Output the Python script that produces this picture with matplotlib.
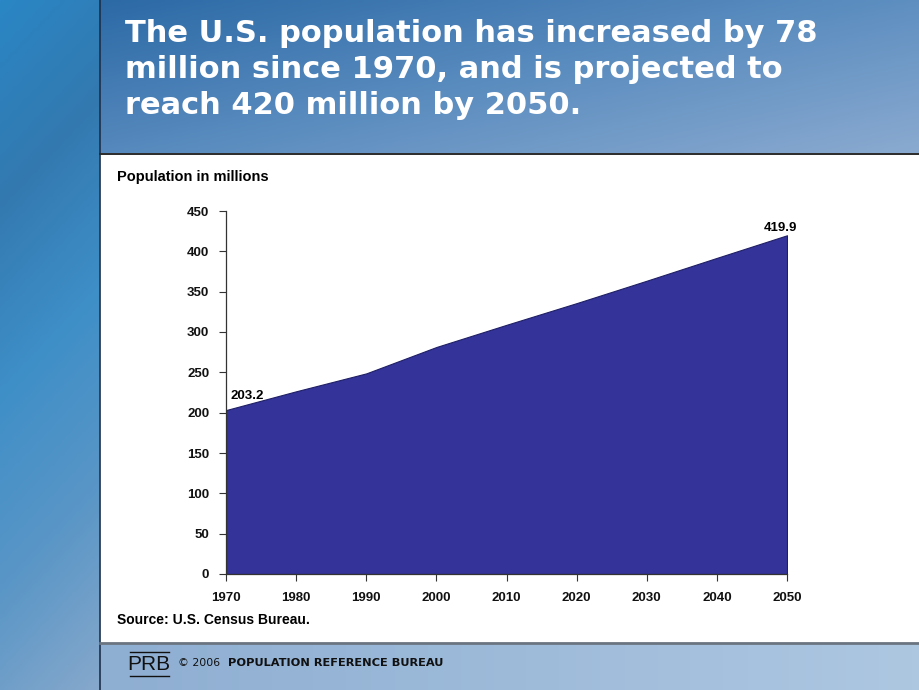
import numpy as np
import matplotlib.pyplot as plt
from matplotlib.colors import LinearSegmentedColormap

years = [1970, 1980, 1990, 2000, 2010, 2020, 2030, 2040, 2050]
population = [203.2, 226.5, 248.7, 281.4, 308.9, 335.8, 363.6, 391.9, 419.9]
yticks = [0, 50, 100, 150, 200, 250, 300, 350, 400, 450]

title = ("The U.S. population has increased by 78\n"
         "million since 1970, and is projected to\n"
         "reach 420 million by 2050.")

narrow = ['Liberation Sans Narrow', 'Liberation Sans', 'DejaVu Sans']

fig = plt.figure(figsize=(9.2, 6.9), dpi=100)

# background in pixel coords
bg = fig.add_axes([0, 0, 1, 1])
bg.set_xlim(0, 920)
bg.set_ylim(690, 0)
bg.axis('off')

# left strip
strip_cm = LinearSegmentedColormap.from_list('strip', ['#2a86c4', '#3379b0', '#3f8fc8', '#5a96c6', '#86a8cc'])
yy = np.linspace(0, 1, 200).reshape(-1, 1)
xx = np.linspace(0, 1, 40).reshape(1, -1)
g = yy + 0.15 * xx
bg.imshow(g, cmap=strip_cm, extent=(0, 100, 690, 0), aspect='auto', zorder=0)

# header
head_cm = LinearSegmentedColormap.from_list('head', ['#2c6aa6', '#5a8cbf', '#8aaad0'])
hy = np.linspace(0, 1, 60).reshape(-1, 1)
hx = np.linspace(0, 1, 200).reshape(1, -1)
hg = np.clip(0.55 * hx + 0.45 * hy, 0, 1)
bg.imshow(hg, cmap=head_cm, extent=(100, 920, 153, 0), aspect='auto', zorder=0)

# white chart panel
bg.fill_between([100, 920], 154, 643, color='white', zorder=1)

# footer
foot_cm = LinearSegmentedColormap.from_list('foot', ['#8eaed2', '#adc7e1'])
fx = np.linspace(0, 1, 100).reshape(1, -1)
bg.imshow(fx, cmap=foot_cm, extent=(100, 920, 690, 644), aspect='auto', zorder=0)

bg.plot([100, 100], [0, 690], color='#1e2f48', lw=1.2, zorder=3)
bg.plot([100, 920], [153.5, 153.5], color='#2a2a2a', lw=1.4, zorder=3)
bg.plot([100, 920], [643, 643], color='#6a7480', lw=2, zorder=3)

bg.text(125, 19, title, color='white', fontsize=22, fontweight='bold',
        va='top', ha='left', linespacing=1.3, family='DejaVu Sans', zorder=4)

bg.text(117, 177, 'Population in millions', fontsize=10.5, fontweight='bold',
        va='center', ha='left', family=['Liberation Sans', 'DejaVu Sans'], zorder=4)
bg.text(117, 620, 'Source: U.S. Census Bureau.', fontsize=10, fontweight='bold',
        va='center', ha='left', family=['Liberation Sans', 'DejaVu Sans'], zorder=4)

# footer logo and text
bg.text(149, 664, 'PRB', fontsize=15, color='#111111', va='center', ha='center',
        family=narrow, fontweight='light', zorder=4)
bg.plot([130, 169], [652, 652], color='#111111', lw=1, zorder=4)
bg.plot([130, 169], [676, 676], color='#111111', lw=1, zorder=4)
bg.text(178, 663, '\u00a9 2006', fontsize=7.8, color='#111111', va='center', ha='left',
        family='DejaVu Sans', zorder=4)
bg.text(228, 663, 'POPULATION REFERENCE BUREAU', fontsize=8.2, color='#111111',
        fontweight='bold', va='center', ha='left', family='DejaVu Sans', zorder=4)

# chart
ax = fig.add_axes([226 / 920, 1 - 574 / 690, (787 - 226) / 920, (574 - 211) / 690])
ax.patch.set_alpha(0)
ax.fill_between(years, population, 0, facecolor='#333399', edgecolor='#1f1f66', lw=0.8)
ax.set_xlim(1970, 2050)
ax.set_ylim(0, 450)
ax.set_xticks(years)
ax.set_yticks(yticks)
ax.spines['top'].set_visible(False)
ax.spines['right'].set_visible(False)
for s in ['left', 'bottom']:
    ax.spines[s].set_color('#333333')
    ax.spines[s].set_linewidth(0.9)
ax.tick_params(direction='out', length=5, width=0.8, color='#333333', pad=7)
for lab in ax.get_xticklabels() + ax.get_yticklabels():
    lab.set_family(narrow)
    lab.set_fontweight('bold')
    lab.set_fontsize(9.5)
    lab.set_color('#111111')
ax.tick_params(axis='x', pad=8)

ax.annotate('203.2', (years[0], population[0]), xytext=(3, 6), textcoords='offset points',
            ha='left', va='bottom', fontsize=9.5, fontweight='bold', family=narrow)
ax.annotate('419.9', (years[-1], population[-1]), xytext=(-5, 1), textcoords='offset points',
            ha='center', va='bottom', fontsize=9.5, fontweight='bold', family=narrow)

fig.savefig('out.png', dpi=100)
